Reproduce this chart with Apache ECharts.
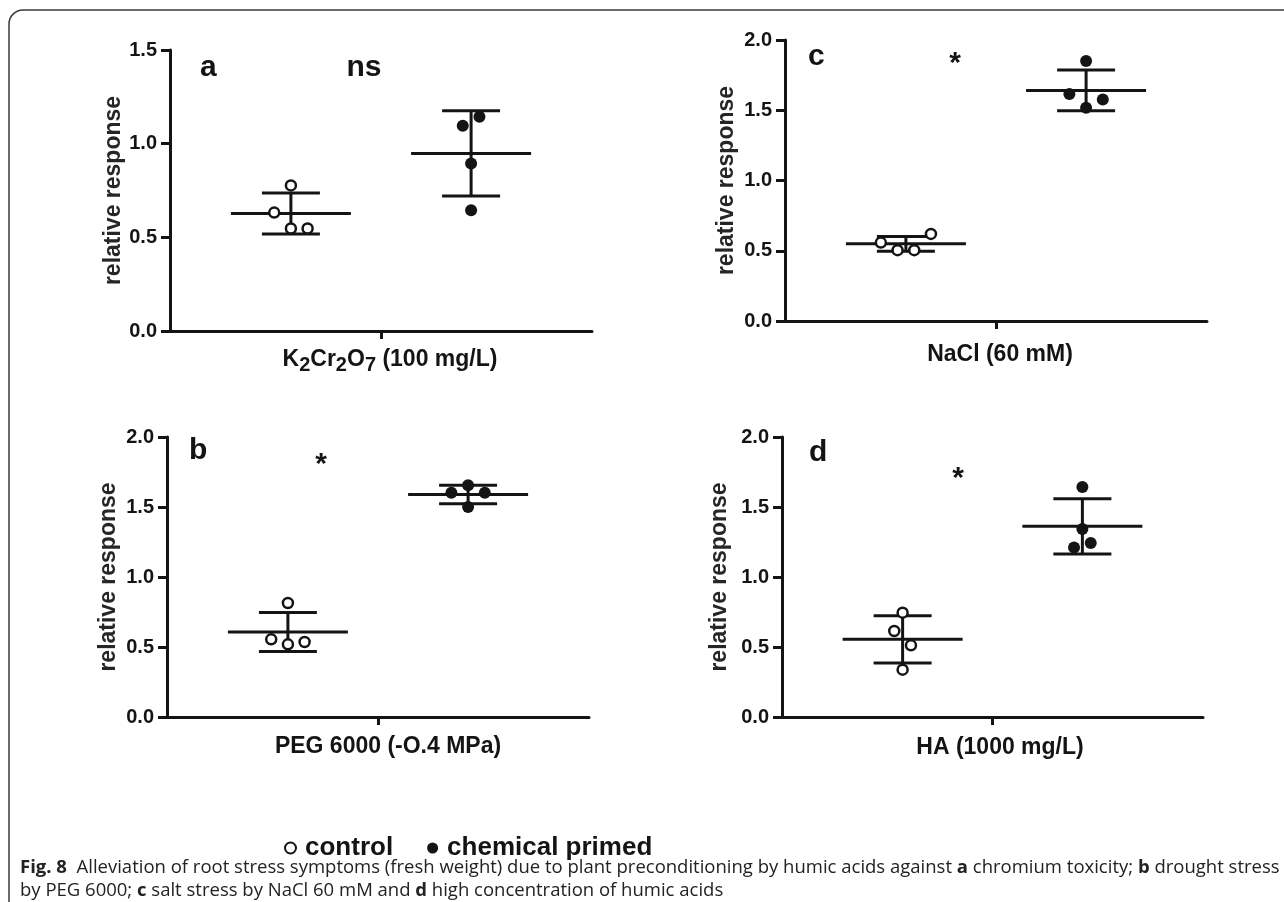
<!DOCTYPE html>
<html>
<head>
<meta charset="utf-8">
<script src="https://cdn.jsdelivr.net/npm/echarts@6/dist/echarts.min.js"></script>
<style>
  html, body { margin: 0; padding: 0; background: #fff; }
  #chart { width: 1284px; height: 902px; }
</style>
</head>
<body>
<div id="chart"></div>
<script>
// values (relative response), 4 replicates per group
const aCtrl = [0.777, 0.632, 0.547, 0.547]
const aPrim = [1.096, 1.144, 0.894, 0.645]
const aMean = [0.627, 0.948]
const aSd = [0.109, 0.228]

const bCtrl = [0.814, 0.555, 0.519, 0.536]
const bPrim = [1.655, 1.602, 1.602, 1.500]
const bMean = [0.607, 1.590]
const bSd = [0.140, 0.066]

const cCtrl = [0.558, 0.504, 0.504, 0.620]
const cPrim = [1.850, 1.615, 1.577, 1.518]
const cMean = [0.549, 1.641]
const cSd = [0.052, 0.145]

const dCtrl = [0.745, 0.614, 0.512, 0.338]
const dPrim = [1.643, 1.343, 1.243, 1.210]
const dMean = [0.555, 1.362]
const dSd = [0.169, 0.197]

// side-by-side spread of overlapping dots (in dot widths)
const aCtrlSpread = [0, -1, 0, 1]
const aPrimSpread = [-0.5, 0.5, 0, 0]
const bCtrlSpread = [0, -1, 0, 1]
const bPrimSpread = [0, -1, 1, 0]
const cCtrlSpread = [-1.5, -0.5, 0.5, 1.5]
const cPrimSpread = [0, -1, 1, 0]
const dCtrlSpread = [0, -0.5, 0.5, 0]
const dPrimSpread = [0, 0, 0.5, -0.5]

const groupNames = ['control', 'chemical primed']
const groupX = [-0.427, 0.427]
const yTicks = ['0.0', '0.5', '1.0', '1.5', '2.0']

const FONT = 'Liberation Sans, Arial, Helvetica, sans-serif'
const INK = '#141414'

const panels = [
  { letter: 'a', mark: 'ns', xName: '{n|K}{s|2}{n|Cr}{s|2}{n|O}{s|7}{n| (100 mg/L)}', max: 1.5,
    ctrl: aCtrl, prim: aPrim, mean: aMean, sd: aSd, cs: aCtrlSpread, ps: aPrimSpread,
    grid: { left: 170, top: 50, width: 422, height: 281 }, yGap: 39, xGap: 14, xPad: 18,
    letterPos: [200, 53], markPos: [364, 53] },
  { letter: 'c', mark: '*', xName: 'NaCl (60 mM)', max: 2.0,
    ctrl: cCtrl, prim: cPrim, mean: cMean, sd: cSd, cs: cCtrlSpread, ps: cPrimSpread,
    grid: { left: 785, top: 40, width: 422, height: 281 }, yGap: 47, xGap: 22, xPad: 8,
    letterPos: [808, 42], markPos: [955, 49] },
  { letter: 'b', mark: '*', xName: 'PEG 6000 (-O.4 MPa)', max: 2.0,
    ctrl: bCtrl, prim: bPrim, mean: bMean, sd: bSd, cs: bCtrlSpread, ps: bPrimSpread,
    grid: { left: 167, top: 437, width: 422, height: 280 }, yGap: 47, xGap: 18, xPad: 20,
    letterPos: [189, 436], markPos: [321, 450] },
  { letter: 'd', mark: '*', xName: 'HA (1000 mg/L)', max: 2.0,
    ctrl: dCtrl, prim: dPrim, mean: dMean, sd: dSd, cs: dCtrlSpread, ps: dPrimSpread,
    grid: { left: 782, top: 437, width: 421, height: 280 }, yGap: 51, xGap: 19, xPad: 15,
    letterPos: [809, 438], markPos: [958, 464] }
]

const DOT = 12
const SPREAD_PX = 16.7

// mean line with SD whiskers, placed through the axes
function renderStats(params, api) {
  const x = api.value(0)
  const m = api.value(1)
  const s = api.value(2)
  const c = api.coord([x, m])
  const hi = api.coord([x, m + s])
  const lo = api.coord([x, m - s])
  const st = { stroke: INK, lineWidth: 3 }
  return {
    type: 'group',
    children: [
      { type: 'line', shape: { x1: c[0] - 60, y1: c[1], x2: c[0] + 60, y2: c[1] }, style: st },
      { type: 'line', shape: { x1: c[0], y1: hi[1], x2: c[0], y2: lo[1] }, style: st },
      { type: 'line', shape: { x1: c[0] - 29, y1: hi[1], x2: c[0] + 29, y2: hi[1] }, style: st },
      { type: 'line', shape: { x1: c[0] - 29, y1: lo[1], x2: c[0] + 29, y2: lo[1] }, style: st }
    ]
  }
}

const grid = []
const xAxis = []
const yAxis = []
const series = []
const graphic = []

panels.forEach((p, i) => {
  grid.push(p.grid)
  xAxis.push({
    gridIndex: i,
    type: 'value',
    min: -1,
    max: 1,
    name: p.xName,
    nameLocation: 'middle',
    nameGap: p.xGap,
    nameTextStyle: {
      padding: [0, 0, 0, p.xPad],
      rich: {
        n: { fontFamily: FONT, fontWeight: 'bold', fontSize: 23, color: INK, lineHeight: 30 },
        s: { fontFamily: FONT, fontWeight: 'bold', fontSize: 20, color: INK, lineHeight: 30, verticalAlign: 'bottom', padding: [6, 0, 0, 0] }
      },
      fontFamily: FONT, fontWeight: 'bold', fontSize: 23, color: INK
    },
    axisLine: { show: true, onZero: false, lineStyle: { color: INK, width: 3 } },
    axisTick: { show: true, customValues: [0], length: 8, lineStyle: { color: INK, width: 3 } },
    axisLabel: { show: false },
    splitLine: { show: false }
  })
  yAxis.push({
    gridIndex: i,
    type: 'value',
    min: 0,
    max: p.max,
    interval: 0.5,
    name: 'relative response',
    nameLocation: 'middle',
    nameGap: p.yGap,
    nameTextStyle: { fontFamily: FONT, fontWeight: 'bold', fontSize: 23, color: '#262626' },
    axisLine: { show: true, onZero: false, lineStyle: { color: INK, width: 3 } },
    axisTick: { show: true, length: 9, lineStyle: { color: INK, width: 3 } },
    axisLabel: {
      margin: 13,
      fontFamily: FONT, fontWeight: 'bold', fontSize: 20, color: INK,
      formatter: v => yTicks[Math.round(v / 0.5)]
    },
    splitLine: { show: false }
  })

  series.push({
    type: 'custom',
    xAxisIndex: i,
    yAxisIndex: i,
    renderItem: renderStats,
    data: p.mean.map((m, k) => [groupX[k], m, p.sd[k]]),
    z: 2,
    silent: true
  })
  series.push({
    name: groupNames[0],
    type: 'scatter',
    xAxisIndex: i,
    yAxisIndex: i,
    symbol: 'circle',
    symbolSize: DOT - 2,
    itemStyle: { color: '#fff', borderColor: INK, borderWidth: 2.5, opacity: 1 },
    data: p.ctrl.map((v, k) => ({ value: [groupX[0], v], symbolOffset: [p.cs[k] * SPREAD_PX, 0] })),
    z: 3
  })
  series.push({
    name: groupNames[1],
    type: 'scatter',
    xAxisIndex: i,
    yAxisIndex: i,
    symbol: 'circle',
    symbolSize: DOT,
    itemStyle: { color: INK, borderColor: INK, borderWidth: 0, opacity: 1 },
    data: p.prim.map((v, k) => ({ value: [groupX[1], v], symbolOffset: [p.ps[k] * SPREAD_PX, 0] })),
    z: 3
  })

  graphic.push({
    type: 'text', left: p.letterPos[0], top: p.letterPos[1],
    style: { text: p.letter, font: 'bold 30px ' + FONT, fill: INK }
  })
  graphic.push({
    type: 'text', x: p.markPos[0], y: p.markPos[1],
    style: { text: p.mark, font: 'bold 30px ' + FONT, fill: INK, align: 'center', verticalAlign: 'top' }
  })
})

// figure frame (only the top-left corner falls inside the crop)
graphic.push({
  type: 'rect',
  shape: { x: 9, y: 10, width: 1400, height: 1000, r: 14 },
  style: { fill: 'none', stroke: '#3a3a3a', lineWidth: 1.5 },
  silent: true
})

const CAP = 'Open Sans, Noto Sans, sans-serif'
graphic.push({
  type: 'text', left: 20, top: 856,
  style: {
    text: '{b|Fig. 8}  Alleviation of root stress symptoms (fresh weight) due to plant preconditioning by humic acids against {b|a} chromium toxicity; {b|b} drought stress\n' +
      'by PEG 6000; {b|c} salt stress by NaCl 60 mM and {b|d} high concentration of humic acids',
    font: '18.5px ' + CAP,
    fill: '#222',
    lineHeight: 23,
    rich: {
      b: { fontFamily: CAP, fontWeight: 'bold', fontSize: 18.5, fill: '#222', lineHeight: 23 }
    }
  }
})

const chart = echarts.init(document.getElementById('chart'))
chart.setOption({
  backgroundColor: '#fff',
  animation: false,
  grid,
  xAxis,
  yAxis,
  series,
  graphic,
  legend: {
    data: groupNames,
    left: 279,
    top: 830,
    icon: 'circle',
    itemWidth: 11,
    itemHeight: 11,
    itemGap: 34,
    textStyle: { fontFamily: FONT, fontWeight: 'bold', fontSize: 26, color: INK, padding: [0, 0, 0, 4] },
    selectedMode: false
  }
})
</script>
</body>
</html>
